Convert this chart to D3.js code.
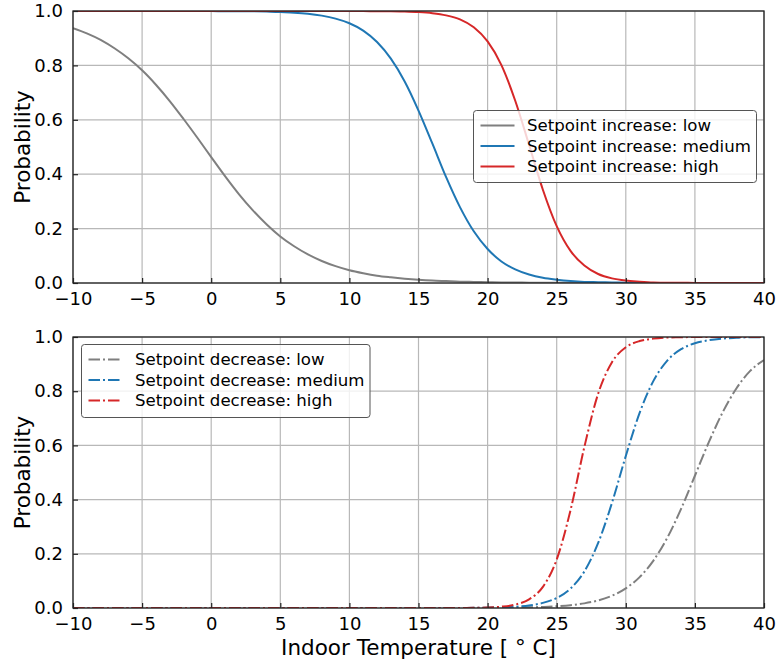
<!DOCTYPE html>
<html>
<head>
<meta charset="utf-8">
<script src="https://cdn.jsdelivr.net/npm/d3@7/dist/d3.min.js"></script>
<style>
  html, body { margin: 0; padding: 0; background: #fff; }
  svg { display: block; font-family: "DejaVu Sans", sans-serif; }
</style>
</head>
<body>
<svg id="chart" width="779" height="661"></svg>
<script>
// Indoor temperature samples (°C)
const temps = [-10,-9,-8,-7,-6,-5,-4,-3,-2,-1,0,1,2,3,4,5,6,7,8,9,10,11,12,13,14,15,16,17,18,19,20,
  21,22,23,24,25,26,27,28,29,30,31,32,33,34,35,36,37,38,39,40];

// Probability of a setpoint increase
const incLow = [0.937,0.918,0.894,0.863,0.826,0.782,0.729,0.669,0.603,0.534,0.463,0.393,0.327,0.268,0.216,
  0.171,0.135,0.105,0.081,0.062,0.047,0.036,0.027,0.021,0.016,0.012,0.009,0.007,0.005,0.004,0.003,
  0.002,0.002,0.001,0.001,0.001,0,0,0,0,0,0,0,0,0,0,0,0,0,0,0];
const incMedium = [1,1,1,1,1,1,1,1,1,1,1,0.999,0.999,0.999,0.998,0.996,0.994,0.990,0.983,0.972,0.955,
  0.928,0.886,0.825,0.741,0.634,0.513,0.389,0.279,0.190,0.125,0.079,0.050,0.031,0.019,0.012,0.007,
  0.004,0.003,0.002,0.001,0,0,0,0,0,0,0,0,0,0];
const incHigh = [1,1,1,1,1,1,1,1,1,1,1,1,1,1,1,1,1,1,1,1,1,1,0.999,0.999,0.998,0.996,0.992,0.984,
  0.969,0.940,0.888,0.801,0.670,0.508,0.343,0.209,0.118,0.064,0.033,0.017,0.009,0.005,0.002,0.001,
  0.001,0,0,0,0,0,0];

// Probability of a setpoint decrease
const decLow = [0,0,0,0,0,0,0,0,0,0,0,0,0,0,0,0,0,0,0,0,0,0,0,0,0,0,0,0,0.0002,0.0003,0.0005,0.0009,
  0.0014,0.0024,0.0039,0.0064,0.0105,0.0171,0.0279,0.0452,0.0724,0.114,0.175,0.259,0.366,0.488,
  0.611,0.721,0.810,0.875,0.915];
const decMedium = [0,0,0,0,0,0,0,0,0,0,0,0,0,0,0,0,0,0,0,0,0,0,0,0,0,0,0,0,0.0003,0.0006,0.0012,
  0.0023,0.0047,0.0094,0.0188,0.037,0.072,0.135,0.240,0.388,0.561,0.720,0.838,0.913,0.955,0.977,
  0.988,0.994,0.997,0.999,0.999];
const decHigh = [0,0,0,0,0,0,0,0,0,0,0,0,0,0,0,0,0,0,0,0,0,0,0,0,0,0,0,0,0.0003,0.0007,0.0019,
  0.0049,0.0125,0.032,0.078,0.179,0.361,0.594,0.791,0.907,0.962,0.985,0.994,0.998,0.999,1,1,1,1,1,1];

const xTicks = [-10,-5,0,5,10,15,20,25,30,35,40];
const xTickLabels = ["\u221210","\u22125","0","5","10","15","20","25","30","35","40"];
const yTicks = [0,0.2,0.4,0.6,0.8,1.0];
const yTickLabels = ["0.0","0.2","0.4","0.6","0.8","1.0"];

const incLabels = ["Setpoint increase: low","Setpoint increase: medium","Setpoint increase: high"];
const decLabels = ["Setpoint decrease: low","Setpoint decrease: medium","Setpoint decrease: high"];
const colors = ["#7f7f7f","#1f77b4","#d62728"];

const svg = d3.select("#chart");
const left = 73, right = 764;
const x = d3.scaleLinear().domain([-10, 40]).range([left, right]);

function panel(id, top, bottom, seriesList, labels, dashed, legendBox) {
  const y = d3.scaleLinear().domain([0, 1]).range([bottom, top]);
  const g = svg.append("g");

  // grid
  g.append("g").selectAll("line").data(xTicks).join("line")
    .attr("x1", d => x(d)).attr("x2", d => x(d)).attr("y1", top).attr("y2", bottom)
    .attr("stroke", "#b8b8b8").attr("stroke-width", 1.2);
  g.append("g").selectAll("line").data(yTicks).join("line")
    .attr("x1", left).attr("x2", right).attr("y1", d => y(d)).attr("y2", d => y(d))
    .attr("stroke", "#b8b8b8").attr("stroke-width", 1.2);

  // curves
  svg.append("clipPath").attr("id", id).append("rect")
    .attr("x", left).attr("y", top).attr("width", right - left).attr("height", bottom - top);
  const line = d3.line().x((d, i) => x(temps[i])).y(d => y(d)).curve(d3.curveMonotoneX);
  const cg = g.append("g").attr("clip-path", `url(#${id})`);
  seriesList.forEach((s, k) => {
    cg.append("path").datum(s).attr("d", line)
      .attr("fill", "none").attr("stroke", colors[k]).attr("stroke-width", 2)
      .attr("stroke-dasharray", dashed ? "11.5,3,2,3" : null);
  });

  // axes with inward ticks
  const xAxis = d3.axisBottom(x).tickValues(xTicks).tickSize(-5).tickPadding(9)
    .tickFormat((d, i) => xTickLabels[i]);
  const yAxis = d3.axisLeft(y).tickValues(yTicks).tickSize(-5).tickPadding(10)
    .tickFormat((d, i) => yTickLabels[i]);
  const ax = g.append("g").attr("transform", `translate(0,${bottom})`).call(xAxis);
  const ay = g.append("g").attr("transform", `translate(${left},0)`).call(yAxis);
  [ax, ay].forEach(a => {
    a.select(".domain").remove();
    a.selectAll(".tick line").attr("stroke", "#222").attr("stroke-width", 1.2);
    a.selectAll("text").attr("font-size", 18).attr("fill", "#000")
      .attr("font-family", "DejaVu Sans");
  });

  // frame
  g.append("rect").attr("x", left).attr("y", top).attr("width", right - left).attr("height", bottom - top)
    .attr("fill", "none").attr("stroke", "#222").attr("stroke-width", 1.3);

  // y label
  g.append("text").attr("transform", `translate(22,${(top + bottom) / 2}) rotate(-90)`)
    .attr("text-anchor", "middle").attr("dominant-baseline", "central")
    .attr("font-size", 21.5).text("Probability");

  // legend
  const lg = g.append("g");
  lg.append("rect").attr("x", legendBox.x).attr("y", legendBox.y)
    .attr("width", legendBox.w).attr("height", legendBox.h).attr("rx", 3)
    .attr("fill", "#fff").attr("fill-opacity", 0.8)
    .attr("stroke", "#555").attr("stroke-width", 1);
  labels.forEach((t, k) => {
    const cy = legendBox.y + 15 + k * 20.5;
    lg.append("line").attr("x1", legendBox.x + 7).attr("x2", legendBox.x + 41)
      .attr("y1", cy).attr("y2", cy).attr("stroke", colors[k]).attr("stroke-width", 2)
      .attr("stroke-dasharray", dashed ? "11.5,3,2,3" : null);
    lg.append("text").attr("x", legendBox.x + 53.5).attr("y", cy).attr("dy", "0.36em")
      .attr("font-size", 16.6).text(t);
  });
  return y;
}

panel("clipTop", 11, 283, [incLow, incMedium, incHigh], incLabels, false,
  { x: 473.5, y: 110.5, w: 283, h: 72 });
panel("clipBottom", 337, 608, [decLow, decMedium, decHigh], decLabels, true,
  { x: 81.5, y: 344.5, w: 288.5, h: 73 });

// x axis title
svg.append("text").attr("x", (left + right) / 2).attr("y", 654.5)
  .attr("text-anchor", "middle").attr("font-size", 21.5)
  .text("Indoor Temperature [ \u00B0 C]");
</script>
</body>
</html>
